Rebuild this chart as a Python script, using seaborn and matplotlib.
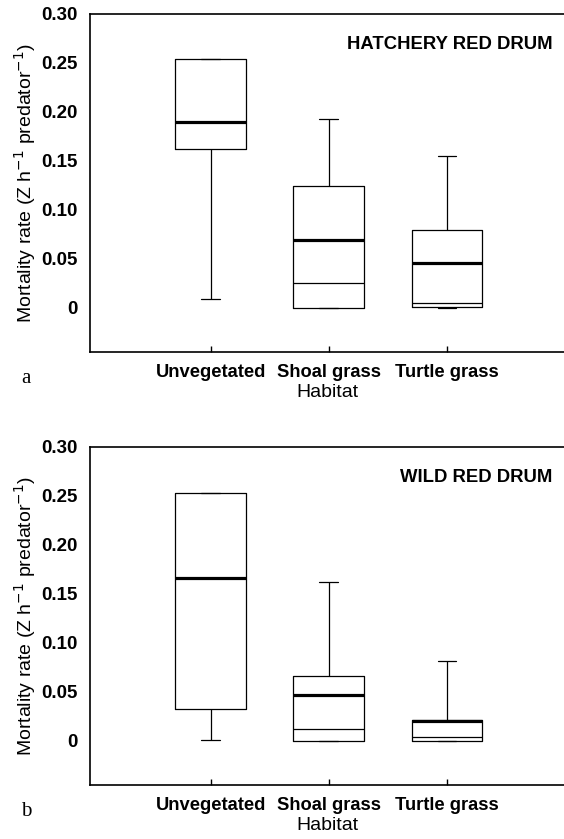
import numpy as np
import pandas as pd
import matplotlib
matplotlib.use("Agg")
import matplotlib.pyplot as plt
import seaborn as sns

habitats = ["Unvegetated", "Shoal grass", "Turtle grass"]

# five-number summaries, plus the mean (thick line)
hatch_min = [0.009, 0.0, 0.0]
hatch_q1 = [0.162, 0.0, 0.0005]
hatch_median = [0.190, 0.025, 0.0045]
hatch_q3 = [0.254, 0.124, 0.079]
hatch_max = [0.254, 0.193, 0.155]
hatch_mean = [0.190, 0.069, 0.046]

wild_min = [0.001, 0.0, 0.0]
wild_q1 = [0.033, 0.0, 0.0]
wild_median = [0.166, 0.0116, 0.0044]
wild_q3 = [0.253, 0.066, 0.021]
wild_max = [0.253, 0.162, 0.082]
wild_mean = [0.166, 0.047, 0.0207]

yticks = [0, 0.05, 0.10, 0.15, 0.20, 0.25, 0.30]
ytick_labels = ["0", "0.05", "0.10", "0.15", "0.20", "0.25", "0.30"]


def five_number_frame(lo, q1, med, q3, hi):
    rows = []
    for i, h in enumerate(habitats):
        for v in (lo[i], q1[i], med[i], q3[i], hi[i]):
            rows.append({"habitat": h, "rate": v})
    return pd.DataFrame(rows)


sns.set_style("white")
plt.rcParams["font.family"] = ["Liberation Sans", "DejaVu Sans"]
plt.rcParams["text.color"] = "black"
plt.rcParams["axes.labelcolor"] = "black"
plt.rcParams["xtick.color"] = "black"
plt.rcParams["ytick.color"] = "black"

fig = plt.figure(figsize=(5.64, 8.39), dpi=100)
ax_a = fig.add_axes([0.1596, 0.5805, 0.8404, 0.4029])
ax_b = fig.add_axes([0.1596, 0.0644, 0.8404, 0.4030])

panels = [
    (ax_a, five_number_frame(hatch_min, hatch_q1, hatch_median, hatch_q3, hatch_max),
     hatch_mean, "HATCHERY RED DRUM", "a"),
    (ax_b, five_number_frame(wild_min, wild_q1, wild_median, wild_q3, wild_max),
     wild_mean, "WILD RED DRUM", "b"),
]

for ax, df, means, title, letter in panels:
    sns.boxplot(data=df, x="habitat", y="rate", order=habitats, whis=(0, 100),
                width=0.6, fill=False, color="black", linewidth=0.9,
                capwidths=0.16, showfliers=False, ax=ax)
    xs = np.arange(len(habitats))
    ax.hlines(means, xs - 0.3, xs + 0.3, color="black", linewidth=2.3, zorder=5)

    ax.set_xlim(-1.02, 2.99)
    ax.set_ylim(-0.045, 0.30)
    ax.set_yticks(yticks)
    ax.set_yticklabels(ytick_labels, fontsize=13.5, fontweight="bold")
    ax.set_xticks(xs)
    ax.set_xticklabels(habitats, fontsize=13.2, fontweight="bold")
    ax.tick_params(axis="y", length=0, pad=9)
    ax.tick_params(axis="x", direction="in", length=4, width=1, pad=9, bottom=True)
    for side in ["left", "top", "bottom"]:
        ax.spines[side].set_linewidth(1.2)
        ax.spines[side].set_color("black")
    ax.spines["right"].set_visible(False)

    ax.set_xlabel("Habitat", fontsize=14, labelpad=2)
    ax.set_ylabel(r"Mortality rate (Z h$^{-1}$ predator$^{-1}$)", fontsize=14, labelpad=2)
    ax.text(0.976, 0.91, title, transform=ax.transAxes, ha="right", va="center",
            fontsize=13.3, fontweight="bold")
    ax.text(-0.145, -0.078, letter, transform=ax.transAxes, ha="left", va="center",
            fontsize=15, family="Liberation Serif")

fig.savefig("out.png", dpi=100)
